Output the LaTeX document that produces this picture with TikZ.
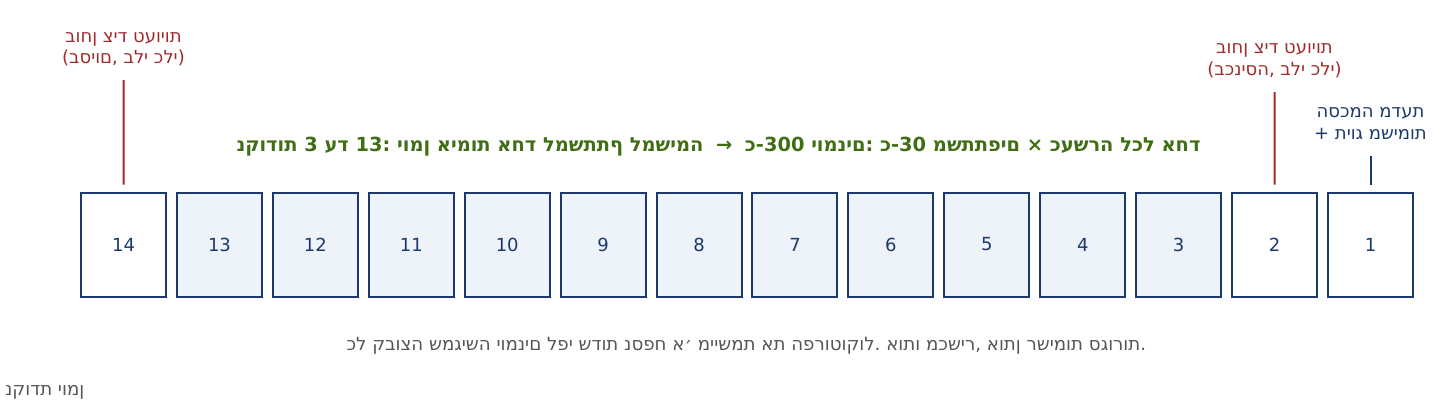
\documentclass[tikz,border=0pt]{standalone}
\usepackage{fontspec}
\setmainfont{DejaVu Sans}
% the reference sets its Hebrew letter by letter from left to right (no bidi):
% every character goes in its own box, so nothing is reordered
\ExplSyntaxOn
\NewDocumentCommand{\ltrtext}{m}{ \str_map_inline:nn {#1} { \hbox{##1} } }
\ExplSyntaxOff
\definecolor{navy}{HTML}{1B3A6B}
\definecolor{lightfill}{HTML}{EEF2F9}
\definecolor{labred}{HTML}{A02B2B}
\definecolor{labgreen}{HTML}{3F6E14}
\definecolor{greytext}{HTML}{555555}
\tikzset{
  pbox/.style={draw=navy, line width=2pt, minimum width=85pt, minimum height=104pt,
    inner sep=0pt, text=navy, font=\fontsize{18}{18}\selectfont},
  whitebox/.style={pbox, fill=white},
  lightbox/.style={pbox, fill=lightfill},
  redlab/.style={text=labred, align=center, inner sep=0pt, font=\fontsize{18}{21.5}\selectfont},
  bluelab/.style={text=navy, align=center, inner sep=0pt, font=\fontsize{18}{21.5}\selectfont},
  greenlab/.style={text=labgreen, inner sep=0pt, font=\fontsize{19.4}{22}\selectfont\bfseries},
  greylab/.style={text=greytext, inner sep=0pt, font=\fontsize{18.2}{22}\selectfont},
  redline/.style={draw=labred, line width=2pt},
  blueline/.style={draw=navy, line width=2pt}
}
\begin{document}
\begin{tikzpicture}[x=1pt,y=-1pt]
\useasboundingbox (0,0) rectangle (1440,420);
\foreach \i in {1,...,14}{
  \pgfmathsetmacro{\bx}{1370.5-(\i-1)*95.92}
  \ifnum\i<3 \def\bst{whitebox}\else\ifnum\i=14 \def\bst{whitebox}\else\def\bst{lightbox}\fi\fi
  \node[\bst] (b\i) at (\bx,244.5) {\i};
}
\node[redlab] (lab14) at (123.5,49) {\ltrtext{בוחן ציד טעויות}\\\ltrtext{(בסיום, בלי כלי)}};
\node[redlab] (lab2) at (1274.5,60.5) {\ltrtext{בוחן ציד טעויות}\\\ltrtext{(בכניסה, בלי כלי)}};
\node[bluelab] (lab1) at (1370.5,123.5) {\ltrtext{הסכמה מדעת}\\\ltrtext{+ תיוג משימות}};
\coordinate (t14) at (123.5,80);
\coordinate (t2) at (1274.5,92);
\coordinate (t1) at (1370.5,156);
\draw[redline] (t14) -- ([yshift=7pt]b14.north);
\draw[redline] (t2) -- ([yshift=7pt]b2.north);
\draw[blueline] (t1) -- ([yshift=7pt]b1.north);
\node[greenlab] (summary) at (718.5,146.5) {\ltrtext{נקודות 3 עד 13: יומן אימות אחד למשתתף למשימה}\hspace{0.65em}\ltrtext{→}\hspace{0.65em}\ltrtext{כ-300 יומנים: כ-30 משתתפים × כעשרה לכל אחד}};
\node[greylab] (note) at (746.5,345.5) {\ltrtext{כל קבוצה שמגישה יומנים לפי שדות נספח א׳ מיישמת את הפרוטוקול. אותו מכשיר, אותן רשימות סגורות.}};
\node[greylab, anchor=west] (legend) at (5,392.5) {\ltrtext{נקודת יומן}};
\end{tikzpicture}
\end{document}
